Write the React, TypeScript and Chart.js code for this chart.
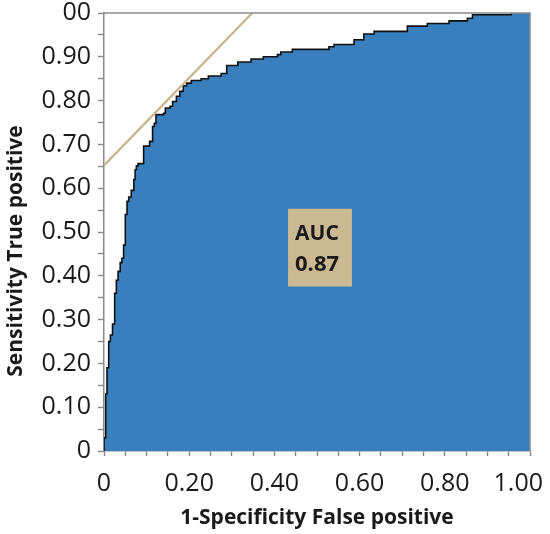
import React, { useEffect, useRef } from 'react';
import { Chart, registerables } from 'chart.js';

Chart.register(...registerables);

// ROC curve: false-positive rate at each step and true-positive rate after the step
const rocFpr = [
  0, 0, 0.004, 0.007, 0.011, 0.015, 0.02, 0.025, 0.029, 0.033, 0.038, 0.042, 0.046,
  0.05, 0.054, 0.058, 0.064, 0.07, 0.073, 0.076, 0.08, 0.093, 0.107, 0.114, 0.118,
  0.122, 0.14, 0.144, 0.155, 0.161, 0.17, 0.178, 0.186, 0.194, 0.205, 0.228, 0.245,
  0.275, 0.288, 0.314, 0.345, 0.374, 0.407, 0.415, 0.442, 0.528, 0.54, 0.587, 0.61,
  0.634, 0.712, 0.759, 0.81, 0.853, 0.865, 0.956,
];
const rocTpr = [
  0, 0.03, 0.13, 0.19, 0.25, 0.265, 0.29, 0.36, 0.39, 0.41, 0.43, 0.44, 0.47,
  0.54, 0.57, 0.58, 0.595, 0.62, 0.642, 0.651, 0.656, 0.696, 0.707, 0.741, 0.748,
  0.768, 0.771, 0.783, 0.787, 0.798, 0.81, 0.821, 0.834, 0.84, 0.846, 0.85, 0.856,
  0.862, 0.88, 0.888, 0.895, 0.9, 0.905, 0.911, 0.917, 0.923, 0.928, 0.939, 0.952,
  0.958, 0.97, 0.976, 0.982, 0.988, 0.996, 1.0,
];
// the filled area continues to the right edge of the plot
const fillEndFpr = 1.0;
const fillEndTpr = 1.0;

// tangent reference line
const refLineFpr = [0, 0.348];
const refLineTpr = [0.652, 1.0];

// AUC annotation box (data coordinates) and its text
const aucBoxX = [0.432, 0.582];
const aucBoxY = [0.3755, 0.553];
const aucText = ['AUC', '0.87'];

const xTitle = '1-Specificity False positive';
const yTitle = 'Sensitivity True positive';
const xLastLabel = '1.00';

const AXIS_GRAY = '#8a8a8a';
const TEXT = '#1a1a1a';
const X_TICK_LEN = 5;
const X_TICK_PAD = 13;

export default function App() {
  const ref = useRef<HTMLCanvasElement | null>(null);

  useEffect(() => {
    if (!ref.current) return;

    const decorPlugin = {
      id: 'decor',
      afterDatasetsDraw(chart: any) {
        const { ctx, chartArea, scales } = chart;
        const xs = scales.x;
        const ys = scales.y;
        // AUC box
        const x0 = xs.getPixelForValue(aucBoxX[0]);
        const x1 = xs.getPixelForValue(aucBoxX[1]);
        const y0 = ys.getPixelForValue(aucBoxY[1]);
        const y1 = ys.getPixelForValue(aucBoxY[0]);
        ctx.save();
        ctx.fillStyle = '#cbb994';
        ctx.fillRect(x0, y0, x1 - x0, y1 - y0);
        ctx.fillStyle = TEXT;
        ctx.font = 'bold 21px "Open Sans"';
        ctx.textAlign = 'left';
        ctx.textBaseline = 'alphabetic';
        ctx.fillText(aucText[0], x0 + 7, y0 + 31);
        ctx.font = 'bold 22px "Open Sans"';
        ctx.fillText(aucText[1], x0 + 7, y0 + 62);
        ctx.restore();

        // top and right frame lines
        ctx.save();
        ctx.strokeStyle = AXIS_GRAY;
        ctx.lineWidth = 1.5;
        ctx.beginPath();
        ctx.moveTo(chartArea.left, chartArea.top);
        ctx.lineTo(chartArea.right, chartArea.top);
        ctx.lineTo(chartArea.right, chartArea.bottom);
        ctx.stroke();
        ctx.restore();
      },
      afterDraw(chart: any) {
        const { ctx, chartArea, scales } = chart;
        const xs = scales.x;
        ctx.save();
        // last x tick label, pulled inside the canvas
        ctx.fillStyle = TEXT;
        ctx.font = '25px "Open Sans"';
        ctx.textBaseline = 'top';
        ctx.textAlign = 'center';
        const w = ctx.measureText(xLastLabel).width;
        const cx = Math.min(xs.getPixelForValue(1), chart.width - 7 - w / 2);
        ctx.fillText(xLastLabel, cx, xs.top + X_TICK_LEN + X_TICK_PAD + 2);

        // axis titles
        ctx.font = 'bold 21px "Open Sans"';
        ctx.textAlign = 'center';
        ctx.textBaseline = 'middle';
        ctx.fillText(xTitle, (chartArea.left + chartArea.right) / 2, 518);
        ctx.translate(16, 251);
        ctx.rotate(-Math.PI / 2);
        ctx.fillText(yTitle, 0, 0);
        ctx.restore();
      },
    };

    const chart = new Chart(ref.current, {
      type: 'line',
      data: {
        datasets: [
          {
            label: 'ref',
            data: refLineFpr.map((x, i) => ({ x, y: refLineTpr[i] })),
            borderColor: '#c8b48c',
            borderWidth: 2.2,
            pointRadius: 0,
            fill: false,
          },
          {
            label: 'roc-line',
            data: rocFpr.map((x, i) => ({ x, y: rocTpr[i] })),
            borderColor: '#111111',
            borderWidth: 1.6,
            pointRadius: 0,
            stepped: 'before',
            fill: false,
          },
          {
            label: 'roc-area',
            data: [...rocFpr, fillEndFpr].map((x, i) => ({ x, y: [...rocTpr, fillEndTpr][i] })),
            borderWidth: 0,
            borderColor: 'rgba(0,0,0,0)',
            backgroundColor: '#3a7fbd',
            pointRadius: 0,
            stepped: 'before',
            fill: 'origin',
          },
        ],
      },
      options: {
        animation: false,
        responsive: false,
        maintainAspectRatio: false,
        layout: { padding: { top: 13, right: 20, left: 0, bottom: 0 } },
        plugins: {
          legend: { display: false },
          tooltip: { enabled: false },
          title: { display: false },
        },
        scales: {
          x: {
            type: 'linear',
            min: 0,
            max: 1,
            z: 1,
            border: { display: true, color: AXIS_GRAY, width: 1.5 },
            grid: {
              drawOnChartArea: false,
              drawTicks: true,
              tickLength: X_TICK_LEN,
              color: AXIS_GRAY,
              tickWidth: 1.5,
            },
            ticks: {
              stepSize: 0.05,
              autoSkip: false,
              maxRotation: 0,
              padding: X_TICK_PAD,
              color: TEXT,
              font: { family: '"Open Sans"', size: 25 },
              callback: (v: any) => {
                const n = Math.round(Number(v) * 100);
                if (n % 20 !== 0 || n === 100) return '';
                return n === 0 ? '0' : (n / 100).toFixed(2);
              },
            },
            afterFit: (s: any) => {
              s.height = 83;
              s.paddingLeft = 0;
              s.paddingRight = 0;
            },
          },
          y: {
            type: 'linear',
            min: 0,
            max: 1,
            z: 1,
            border: { display: true, color: AXIS_GRAY, width: 1.5 },
            grid: {
              drawOnChartArea: false,
              drawTicks: true,
              tickLength: 6,
              color: AXIS_GRAY,
              tickWidth: 1.5,
            },
            ticks: {
              stepSize: 0.05,
              autoSkip: false,
              padding: 7,
              color: TEXT,
              font: { family: '"Open Sans"', size: 25 },
              callback: (v: any) => {
                const n = Math.round(Number(v) * 100);
                if (n % 10 !== 0) return '';
                if (n === 0) return '0';
                if (n === 100) return '00';
                return (n / 100).toFixed(2);
              },
            },
            afterFit: (s: any) => {
              s.width = 104;
              s.paddingTop = 0;
              s.paddingBottom = 0;
            },
          },
        },
      },
      plugins: [decorPlugin],
    });

    return () => chart.destroy();
  }, []);

  return (
    <div style={{ position: 'absolute', left: 0, top: 0, width: 550, height: 534, background: '#fff' }}>
      <canvas ref={ref} width={550} height={534} style={{ width: 550, height: 534, display: 'block' }} />
    </div>
  );
}
